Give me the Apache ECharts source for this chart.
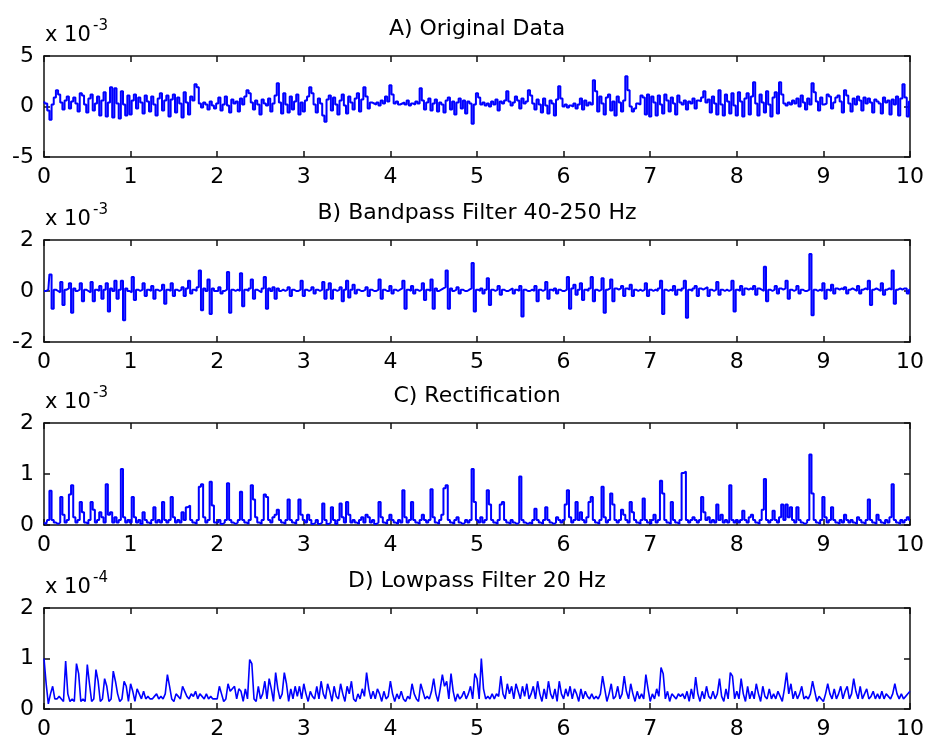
<!DOCTYPE html>
<html>
<head>
<meta charset="utf-8">
<title>EMG processing</title>
<script src="https://cdn.jsdelivr.net/npm/echarts@6/dist/echarts.min.js"></script>
<style>
    html, body { margin: 0; padding: 0; background: #fff; }
    #main { width: 927px; height: 745px; }
</style>
</head>
<body>
<div id="main"></div>
<script>
/* samples every 0.025 s, 0..10 s (401 points each) */

/* A) original data, x 10^-3 */
var origData = [
    0.5, 0.3, -0.4, -1.3, 0.2, 0.9, 1.6, 1.2, 0.4, -0.3, 0.6, 1.0, -0.2, 0.5, 0.9, 0.3, -0.5, 1.3, 1.1, 0.2, -0.6, 0.8, 1.2, -0.4, 0.3, 1.0, -0.9, 0.6, 1.4, -1.0, 0.4, 1.9, -1.1, 1.8, 0.3, -1.2, 1.5, 0.2, -0.9, 1.1,
    -0.8, 0.6, 1.2, -0.2, 0.9, 0.4, -0.7, 1.1, 0.5, -0.5, 1.0, 0.2, -0.9, 0.8, 1.3, -0.4, 0.6, 1.1, -1.0, 0.7, 1.2, -0.6, 0.9, 0.3, -1.1, 1.4, 0.4, -0.8, 1.0, 0.6, 2.2, 1.9, 0.3, -0.1, 0.4, 0.2, -0.3, 0.5, 0.1, -0.2,
    0.3, 0.9, -0.4, 0.2, 1.0, 0.1, -0.6, 0.7, 0.3, 0.5, -0.5, 0.8, 0.2, 1.0, 1.6, 1.3, 0.4, -0.3, 0.6, 0.2, -0.8, 0.7, 0.3, 0.1, 0.8, -0.5, 0.3, 1.1, 2.3, 0.4, -0.7, 1.3, 0.2, -0.6, 1.0, -0.3, 0.5, 1.2, -0.8, 0.4,
    -0.5, 0.6, 1.0, 1.9, 1.3, 0.2, -0.6, 0.8, 0.3, -0.9, -1.5, 0.7, 1.1, -0.4, 0.9, 0.2, -0.8, 0.6, 1.2, 0.1, -0.7, 1.0, 0.4, -0.3, 0.8, 1.3, -0.5, 0.7, 1.9, 1.0, -0.2, 0.4, 0.3, 0.2, 0.4, 0.1, 0.6, 0.3, 1.0, 0.5,
    2.1, 1.2, 0.3, 0.5, 0.2, 0.3, 0.4, 0.2, 0.6, 0.1, 0.3, 0.2, 0.5, 0.3, 1.8, 0.6, -0.3, 0.4, 0.8, -0.4, 0.3, 0.7, -0.5, 0.4, 0.2, -0.6, 0.6, 0.9, -0.3, 0.5, -0.8, 0.4, 0.8, -0.2, 0.6, -0.7, 0.5, 0.3, -1.7, 0.2,
    1.3, 0.9, 0.2, 0.4, 0.1, 0.3, 0.0, 0.5, 0.2, 0.7, -0.4, 0.5, 0.3, 0.6, 1.5, 0.5, 0.1, 0.4, 1.0, 0.6, -0.2, 0.8, 0.3, 0.5, 1.6, 1.1, 0.3, -0.3, 0.7, 0.2, -0.6, 0.8, 0.1, -0.7, 0.6, 0.3, -0.9, 0.7, 2.0, 0.8,
    0.0, 0.2, -0.1, 0.1, 0.0, 0.3, -0.2, 0.2, 0.8, -0.3, 0.6, 0.1, 0.4, 0.2, 2.6, 1.5, -0.5, 1.0, 0.3, -0.8, 0.9, 1.2, -0.4, 0.5, -0.9, 1.0, 0.4, -0.5, 0.6, 3.0, 1.6, 0.0, -0.5, -0.2, 0.3, 0.2, 1.1, 0.9, -0.8, 1.2,
    -1.0, 1.0, 0.4, -0.9, 1.1, 0.2, -0.7, 1.2, 0.6, -0.5, 0.9, 0.3, -0.8, 1.1, 0.4, 0.2, 0.6, -0.3, 0.5, 0.3, 0.8, -0.2, 0.6, 0.5, 0.9, 1.5, 0.4, 0.7, -0.6, 1.0, 0.3, -0.8, 1.6, 0.2, -0.9, 1.2, 0.5, -0.7, 1.3, 0.1,
    -0.9, 1.4, 0.5, -1.0, 0.8, 1.3, -0.8, 1.0, 2.4, 0.3, -0.9, 1.2, 0.4, -0.6, 1.5, 0.2, -1.0, 0.9, 1.4, -0.7, 2.4, 1.2, 0.3, 0.1, 0.4, 0.2, 0.6, 0.3, 0.8, 0.0, 1.1, 0.4, -0.3, 0.8, 0.2, 2.3, 1.4, 0.5, -0.4, 0.9,
    0.2, 0.3, 1.2, 1.0, -0.2, 0.4, 0.9, 1.1, 0.5, -0.6, 1.6, 1.1, 0.3, -0.5, 0.8, 0.2, 1.0, 0.6, -0.4, 0.9, 0.3, 0.8, 0.4, -0.6, 0.7, 0.5, 0.3, -0.7, 0.9, 0.4, 0.6, -0.8, 0.7, 0.2, 1.0, -0.9, 0.8, 2.2, 0.9, -1.0,
    0.5
];

/* B) bandpass 40-250 Hz, x 10^-3 */
var bandData = [
    0, 0, 0.05, 0.65, -0.7, 0.05, 0, -0.05, 0.35, -0.55, 0.05, 0.1, 0.3, -0.85, 0.1, 0, 0.05, 0.3, -0.4, 0.05, 0, -0.05, 0.35, -0.4, 0.05, 0, 0.2, -0.3, 0.05, 0.3, -0.8, 0.1, 0, 0.4, -0.3, 0.05, 0.4, -1.15, 0.1, 0,
    -0.05, 0.55, -0.35, 0.05, 0, 0.05, 0.3, -0.2, 0.05, 0, 0.2, -0.3, 0.05, 0, 0.05, 0.25, -0.5, 0.05, 0, 0.3, -0.2, 0.05, 0, 0.05, 0.15, -0.2, 0.1, 0.4, -0.1, 0.05, 0, 0.15, 0.8, -0.75, 0.1, 0, 0.45, -0.9, 0.1, 0,
    0, 0.15, -0.1, 0, 0.05, 0.75, -0.85, 0.05, 0, 0.05, 0, 0.7, -0.6, 0.05, 0, 0.1, 0.45, -0.3, 0.05, 0, -0.05, 0.1, 0.55, -0.7, 0.1, 0, 0.15, -0.3, 0.1, 0, 0.05, 0, 0.05, 0.15, -0.2, 0.05, 0, 0, 0.05, 0.4,
    -0.2, 0.05, 0, 0.05, 0.15, -0.1, 0.05, 0, 0.05, 0.35, -0.3, 0.05, 0.3, -0.3, 0.05, 0, 0.05, 0.15, -0.4, 0.05, 0.4, -0.25, 0.05, 0.25, -0.1, 0.05, 0, 0, 0.05, 0.15, -0.2, 0.05, 0, 0, 0.05, 0.45, -0.3, 0.05, 0, 0,
    0.2, -0.1, 0.05, 0, 0.05, 0.1, 0.4, -0.7, 0.05, 0, 0.2, -0.1, 0.05, 0, 0.05, 0.3, -0.35, 0.05, 0, 0.45, -0.7, 0.1, 0, 0.05, 0.1, 0.15, 0.8, -0.7, 0.1, 0, 0.05, 0.15, -0.1, 0.05, 0, 0, 0.05, 0.1, 1.1, -0.8,
    0.05, 0, 0.1, -0.1, 0.05, 0.5, -0.55, 0.05, 0, 0.05, 0.2, -0.15, 0.05, 0, 0, 0.05, 0.1, -0.1, 0.05, 0, 0.2, -1.0, 0.05, 0, 0, 0.05, 0, 0.2, -0.4, 0.05, 0, 0.05, 0.35, -0.3, 0.05, 0, 0.1, -0.1, 0.05, 0,
    0, 0.05, 0.55, -0.7, 0.1, 0.25, -0.15, 0.05, 0.3, -0.35, 0.05, 0, 0.1, 0.55, -0.4, 0.05, 0, 0.05, 0.5, -0.85, 0.05, 0.1, 0.45, -0.4, 0.1, 0.05, 0.1, 0.2, -0.2, 0.1, 0.05, 0.25, -0.2, 0.05, 0, 0.05, 0, 0.05, 0.3, -0.2,
    0.05, 0, 0.05, 0, 0.1, 0.4, -0.9, 0.05, 0, 0.05, 0, 0.2, -0.15, 0.05, 0, 0.1, 0.4, -1.05, 0.05, 0, 0.1, 0.2, -0.2, 0.1, 0.05, 0.1, 0.15, -0.2, 0.05, 0, 0.05, 0.35, -0.15, 0.05, 0, 0.05, 0, 0.05, 0.4, -0.8,
    0.05, 0, 0.2, -0.15, 0.1, 0.05, 0.1, 0.05, 0.2, -0.15, 0.1, 0.05, 0, 0.95, -0.4, 0.05, 0, 0.05, 0.2, -0.1, 0.1, 0.05, 0.1, 0.4, -0.3, 0.05, 0, 0.05, 0.2, -0.1, 0.05, 0, 0, 0.05, 1.45, -0.95, 0.05, 0, 0.05, 0,
    0.3, -0.3, 0.05, 0, 0.25, -0.1, 0.1, 0.05, 0.1, 0.05, 0.15, -0.1, 0.05, 0.1, 0.05, 0, 0.2, -0.1, 0.05, 0.1, 0.05, 0.4, -0.55, 0.05, 0.1, 0.05, 0, 0.3, -0.15, 0.05, 0.1, 0.05, 0.8, -0.5, 0.05, 0.1, 0.05, 0.1, 0.1, -0.1,
    0.05
];

/* C) rectification, x 10^-3 */
var rectData = [
    0.05, 0.02, 0.1, 0.67, 0.1, 0.05, 0.02, 0.05, 0.55, 0.2, 0.05, 0.1, 0.6, 0.78, 0.15, 0.05, 0.1, 0.45, 0.25, 0.05, 0.02, 0.1, 0.45, 0.3, 0.05, 0.1, 0.25, 0.15, 0.05, 0.8, 0.2, 0.25, 0.05, 0.15, 0.05, 0.1, 1.1, 0.15, 0.05, 0.1,
    0.05, 0.55, 0.15, 0.05, 0.1, 0.02, 0.25, 0.1, 0.05, 0.02, 0.1, 0.35, 0.05, 0.1, 0.05, 0.45, 0.1, 0.05, 0.1, 0.55, 0.15, 0.05, 0.1, 0.05, 0.25, 0.1, 0.35, 0.38, 0.1, 0.05, 0.02, 0.1, 0.75, 0.8, 0.15, 0.05, 0.1, 0.85, 0.38, 0.05,
    0.05, 0.1, 0.02, 0.05, 0.1, 0.82, 0.1, 0.05, 0.02, 0.05, 0.1, 0.65, 0.1, 0.05, 0.02, 0.1, 0.78, 0.5, 0.15, 0.05, 0.02, 0.1, 0.6, 0.55, 0.1, 0.05, 0.15, 0.2, 0.3, 0.1, 0.05, 0.02, 0.1, 0.5, 0.1, 0.05, 0.02, 0.1, 0.5, 0.2,
    0.1, 0.05, 0.2, 0.1, 0.02, 0.05, 0.1, 0.02, 0.05, 0.42, 0.1, 0.02, 0.05, 0.35, 0.1, 0.02, 0.1, 0.42, 0.15, 0.05, 0.45, 0.2, 0.05, 0.1, 0.05, 0.02, 0.1, 0.15, 0.05, 0.2, 0.15, 0.05, 0.1, 0.02, 0.05, 0.45, 0.15, 0.05, 0.02, 0.1,
    0.2, 0.1, 0.05, 0.02, 0.1, 0.05, 0.68, 0.15, 0.05, 0.1, 0.45, 0.1, 0.05, 0.02, 0.1, 0.2, 0.1, 0.05, 0.1, 0.7, 0.15, 0.05, 0.02, 0.1, 0.2, 0.72, 0.78, 0.1, 0.05, 0.02, 0.1, 0.15, 0.05, 0.02, 0.05, 0.1, 0.05, 0.1, 1.1, 0.45,
    0.1, 0.05, 0.15, 0.05, 0.1, 0.68, 0.4, 0.1, 0.05, 0.02, 0.1, 0.4, 0.45, 0.1, 0.05, 0.02, 0.1, 0.05, 0.02, 0.05, 0.95, 0.1, 0.05, 0.02, 0.05, 0.02, 0.1, 0.32, 0.1, 0.05, 0.02, 0.1, 0.35, 0.1, 0.05, 0.02, 0.05, 0.15, 0.1, 0.05,
    0.1, 0.4, 0.68, 0.15, 0.05, 0.1, 0.45, 0.1, 0.25, 0.1, 0.05, 0.15, 0.45, 0.55, 0.1, 0.05, 0.02, 0.1, 0.75, 0.15, 0.05, 0.1, 0.62, 0.4, 0.1, 0.05, 0.1, 0.3, 0.2, 0.1, 0.05, 0.45, 0.25, 0.1, 0.05, 0.02, 0.1, 0.52, 0.1, 0.05,
    0.02, 0.1, 0.2, 0.05, 0.1, 0.87, 0.62, 0.1, 0.05, 0.02, 0.45, 0.1, 0.05, 0.02, 0.1, 1.02, 1.05, 0.1, 0.05, 0.1, 0.15, 0.1, 0.05, 0.1, 0.55, 0.25, 0.1, 0.15, 0.05, 0.1, 0.05, 0.4, 0.1, 0.2, 0.05, 0.1, 0.05, 0.78, 0.1, 0.05,
    0.1, 0.05, 0.1, 0.28, 0.1, 0.05, 0.15, 0.2, 0.1, 0.05, 0.02, 0.1, 0.3, 0.9, 0.1, 0.05, 0.1, 0.28, 0.1, 0.05, 0.15, 0.4, 0.1, 0.4, 0.15, 0.35, 0.1, 0.05, 0.35, 0.1, 0.05, 0.02, 0.05, 0.1, 1.38, 0.62, 0.1, 0.05, 0.02, 0.1,
    0.55, 0.15, 0.05, 0.1, 0.35, 0.1, 0.05, 0.02, 0.1, 0.05, 0.2, 0.1, 0.05, 0.1, 0.05, 0.02, 0.15, 0.1, 0.05, 0.02, 0.1, 0.5, 0.1, 0.05, 0.02, 0.2, 0.1, 0.05, 0.02, 0.1, 0.05, 0.15, 0.8, 0.1, 0.05, 0.02, 0.1, 0.05, 0.1, 0.15,
    0.1
];

/* D) lowpass 20 Hz, x 10^-4 */
var lowData = [
    1.0, 0.5, 0.1, 0.3, 0.45, 0.2, 0.2, 0.25, 0.2, 0.15, 0.95, 0.3, 0.15, 0.2, 0.15, 0.9, 0.7, 0.15, 0.2, 0.15, 0.88, 0.5, 0.15, 0.2, 0.78, 0.55, 0.15, 0.2, 0.6, 0.45, 0.15, 0.2, 0.75, 0.55, 0.3, 0.15, 0.2, 0.55, 0.45, 0.15,
    0.5, 0.35, 0.15, 0.4, 0.3, 0.2, 0.35, 0.2, 0.25, 0.2, 0.2, 0.25, 0.3, 0.2, 0.25, 0.2, 0.3, 0.68, 0.45, 0.2, 0.15, 0.3, 0.25, 0.2, 0.45, 0.35, 0.25, 0.2, 0.3, 0.25, 0.35, 0.2, 0.3, 0.25, 0.2, 0.3, 0.2, 0.25, 0.2, 0.2,
    0.2, 0.45, 0.3, 0.15, 0.2, 0.5, 0.35, 0.4, 0.45, 0.2, 0.4, 0.35, 0.15, 0.4, 0.2, 0.98, 0.9, 0.2, 0.15, 0.45, 0.2, 0.3, 0.55, 0.2, 0.6, 0.4, 0.15, 0.72, 0.4, 0.2, 0.3, 0.72, 0.5, 0.15, 0.4, 0.2, 0.45, 0.25, 0.45, 0.2,
    0.5, 0.3, 0.15, 0.35, 0.25, 0.2, 0.45, 0.2, 0.55, 0.3, 0.2, 0.5, 0.35, 0.15, 0.45, 0.25, 0.2, 0.5, 0.3, 0.15, 0.45, 0.3, 0.55, 0.2, 0.15, 0.3, 0.2, 0.4, 0.25, 0.72, 0.4, 0.2, 0.35, 0.2, 0.4, 0.3, 0.15, 0.35, 0.2, 0.25,
    0.55, 0.3, 0.15, 0.3, 0.2, 0.35, 0.2, 0.15, 0.25, 0.2, 0.5, 0.3, 0.2, 0.15, 0.5, 0.35, 0.2, 0.25, 0.2, 0.35, 0.6, 0.3, 0.15, 0.4, 0.68, 0.45, 0.55, 0.2, 0.7, 0.35, 0.15, 0.3, 0.2, 0.25, 0.35, 0.2, 0.3, 0.45, 0.2, 0.7,
    0.6, 0.2, 1.0, 0.4, 0.2, 0.25, 0.2, 0.3, 0.2, 0.3, 0.25, 0.65, 0.3, 0.2, 0.5, 0.3, 0.45, 0.2, 0.5, 0.35, 0.2, 0.45, 0.25, 0.5, 0.2, 0.3, 0.45, 0.2, 0.55, 0.3, 0.15, 0.4, 0.2, 0.55, 0.3, 0.2, 0.4, 0.15, 0.55, 0.3,
    0.2, 0.4, 0.25, 0.45, 0.2, 0.4, 0.3, 0.15, 0.4, 0.2, 0.35, 0.25, 0.2, 0.3, 0.2, 0.25, 0.2, 0.3, 0.65, 0.4, 0.15, 0.3, 0.5, 0.2, 0.25, 0.45, 0.2, 0.3, 0.65, 0.35, 0.2, 0.5, 0.3, 0.15, 0.35, 0.2, 0.3, 0.2, 0.68, 0.4,
    0.15, 0.3, 0.2, 0.4, 0.25, 0.82, 0.7, 0.2, 0.35, 0.15, 0.3, 0.25, 0.2, 0.3, 0.25, 0.3, 0.2, 0.35, 0.15, 0.4, 0.2, 0.63, 0.3, 0.15, 0.35, 0.2, 0.45, 0.25, 0.2, 0.35, 0.2, 0.3, 0.6, 0.25, 0.15, 0.4, 0.2, 0.72, 0.65, 0.2,
    0.35, 0.2, 0.6, 0.3, 0.15, 0.45, 0.2, 0.35, 0.2, 0.5, 0.3, 0.15, 0.45, 0.25, 0.2, 0.4, 0.2, 0.3, 0.2, 0.35, 0.25, 0.15, 0.4, 0.72, 0.3, 0.5, 0.2, 0.35, 0.2, 0.3, 0.45, 0.2, 0.25, 0.2, 0.3, 0.55, 0.35, 0.15, 0.25, 0.2,
    0.15, 0.3, 0.5, 0.3, 0.2, 0.4, 0.2, 0.3, 0.45, 0.2, 0.35, 0.45, 0.2, 0.3, 0.6, 0.35, 0.2, 0.45, 0.2, 0.3, 0.4, 0.2, 0.25, 0.35, 0.2, 0.3, 0.2, 0.35, 0.2, 0.3, 0.25, 0.2, 0.3, 0.5, 0.3, 0.2, 0.3, 0.2, 0.25, 0.3,
    0.35
];

var titles = ['A) Original Data', 'B) Bandpass Filter 40-250 Hz', 'C) Rectification', 'D) Lowpass Filter 20 Hz'];
var exponents = ['-3', '-3', '-3', '-4'];
var yMins = [-5, -2, 0, 0];
var yMaxs = [5, 2, 2, 2];
var yIntervals = [5, 2, 1, 1];
var X_MAX = 10;

/* 面板位置 */
var panels = [
    { top: 56, height: 101 },
    { top: 240, height: 102 },
    { top: 423, height: 102 },
    { top: 608, height: 101 }
];
var PLOT_LEFT = 44, PLOT_WIDTH = 868;
var FONT = '"DejaVu Sans", Arial, sans-serif';

function toPairs(arr) {
    var step = X_MAX / (arr.length - 1);
    return arr.map(function (v, i) { return [i * step, v]; });
}

function axisBase(showLabel, pos) {
    return {
        position: pos,
        axisLine: { show: true, onZero: false, lineStyle: { color: '#111', width: 1.5 } },
        axisTick: { show: true, inside: true, length: 6, lineStyle: { color: '#111', width: 1.5 } },
        splitLine: { show: false },
        axisLabel: { show: showLabel, color: '#000', fontFamily: FONT, fontSize: 22, margin: 8 }
    };
}

var grids = [], xAxes = [], yAxes = [], series = [], graphics = [];
var allData = [origData, bandData, rectData, lowData];

panels.forEach(function (p, i) {
    grids.push({ left: PLOT_LEFT, top: p.top, width: PLOT_WIDTH, height: p.height });

    ['bottom', 'top'].forEach(function (pos) {
        var ax = axisBase(pos === 'bottom', pos);
        ax.type = 'value';
        ax.gridIndex = i;
        ax.min = 0;
        ax.max = X_MAX;
        ax.interval = 1;
        ax.axisLabel.margin = 9;
        xAxes.push(ax);
    });
    ['left', 'right'].forEach(function (pos) {
        var ay = axisBase(pos === 'left', pos);
        ay.type = 'value';
        ay.gridIndex = i;
        ay.min = yMins[i];
        ay.max = yMaxs[i];
        ay.interval = yIntervals[i];
        ay.axisLabel.margin = 10;
        yAxes.push(ay);
    });

    // D is smooth, the others are drawn as held samples
    series.push({
        type: 'line',
        step: i === 3 ? false : 'middle',
        xAxisIndex: i * 2,
        yAxisIndex: i * 2,
        data: toPairs(allData[i]),
        showSymbol: false,
        symbol: 'none',
        clip: true,
        lineStyle: { color: '#0000ff', width: i === 3 ? 1.6 : 2 },
        silent: true
    });

    /* 标题 + 指数 */
    graphics.push({
        type: 'text', x: 477, y: p.top - 27,
        style: { text: titles[i], font: '22px ' + FONT, fill: '#000', textAlign: 'center', textVerticalAlign: 'middle' }
    });
    graphics.push({
        type: 'text', x: 45, y: p.top - 20,
        style: { text: 'x 10', font: '21px ' + FONT, fill: '#000', textAlign: 'left', textVerticalAlign: 'middle' }
    });
    graphics.push({
        type: 'text', x: 93, y: p.top - 30,
        style: { text: exponents[i], font: '15px ' + FONT, fill: '#000', textAlign: 'left', textVerticalAlign: 'middle' }
    });
});

var chart = echarts.init(document.getElementById('main'), null, { renderer: 'canvas' });
chart.setOption({
    backgroundColor: '#fff',
    animation: false,
    grid: grids,
    xAxis: xAxes,
    yAxis: yAxes,
    series: series,
    graphic: graphics
});
</script>
</body>
</html>
